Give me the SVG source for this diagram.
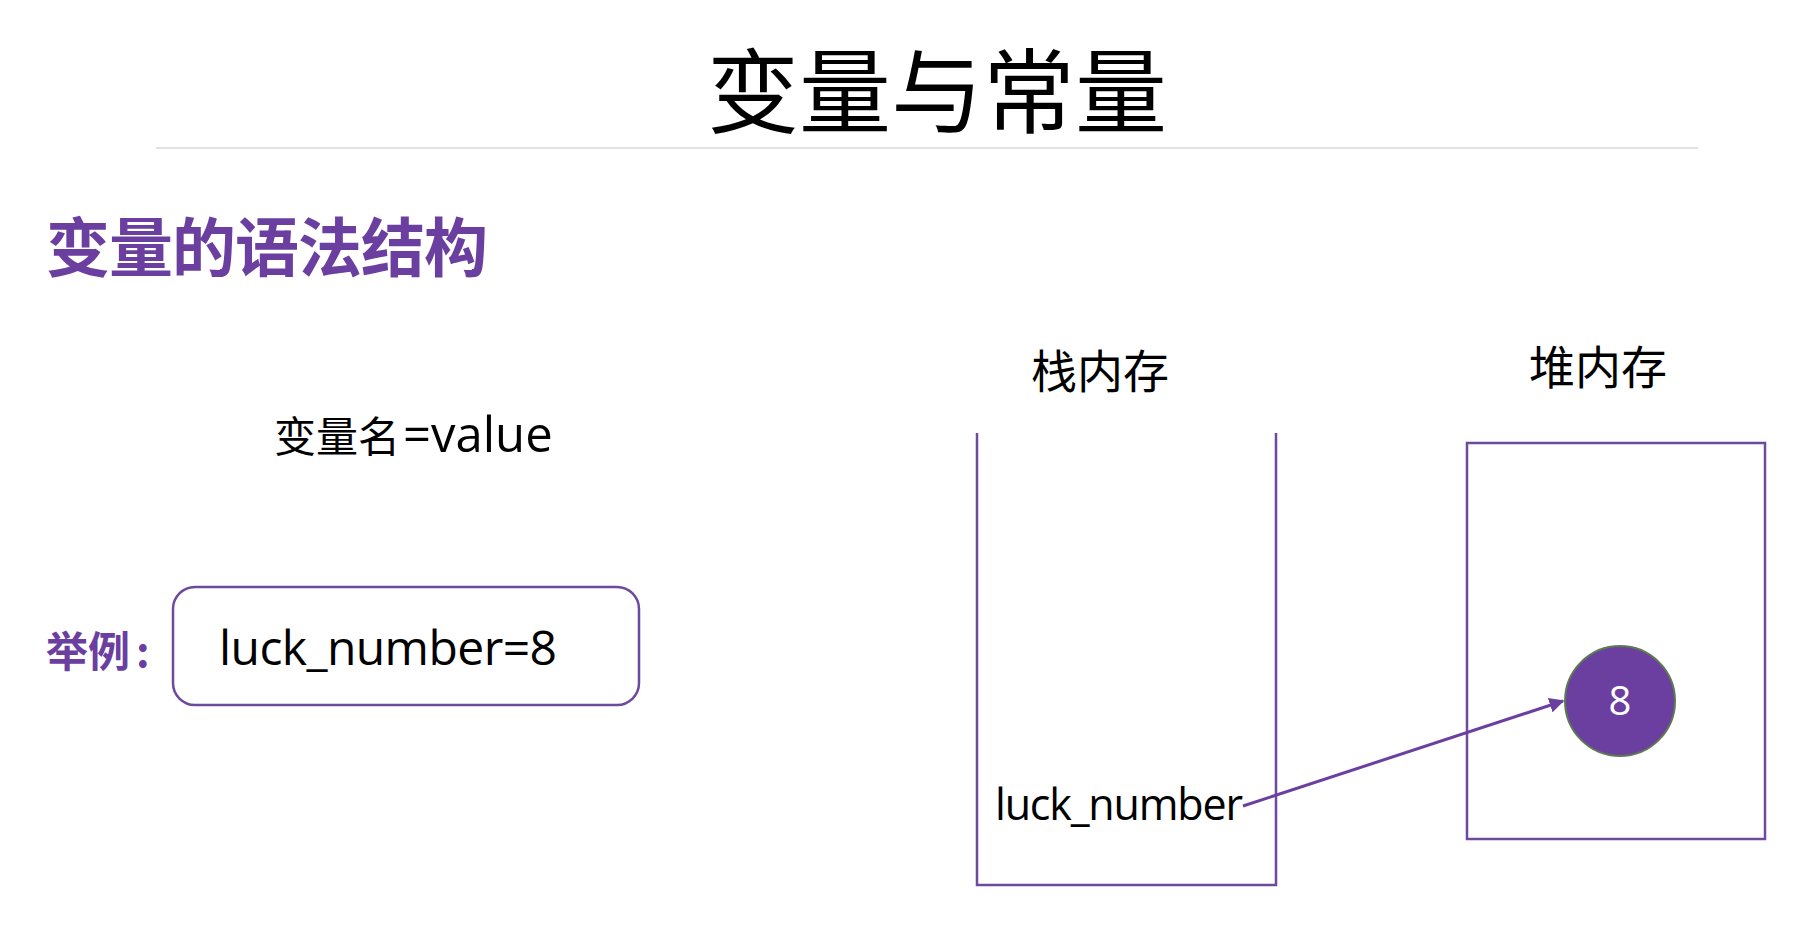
<svg xmlns="http://www.w3.org/2000/svg" width="1810" height="934" viewBox="0 0 1810 934">
<style>
.cjk{font-family:"Noto Sans CJK SC","Microsoft YaHei",sans-serif;}
.lat{font-family:"Open Sans","Noto Sans CJK SC",sans-serif;}
.purple{fill:#6b3fa0;}
.line{stroke:#6e4a9e;stroke-width:2.5;fill:none;}
</style>
<defs>
<marker id="arr" viewBox="0 0 10 10" refX="9" refY="5" markerWidth="5" markerHeight="5" orient="auto" markerUnits="strokeWidth">
<path d="M0,0 L10,5 L0,10 z" fill="#6b3fa0"/>
</marker>
</defs>
<rect width="1810" height="934" fill="#ffffff"/>
<g id="title">
<text class="cjk" x="937" y="126" font-size="92" text-anchor="middle" fill="#000">变量与常量</text>
<line x1="156" y1="148" x2="1698" y2="148" stroke="#d9d9d9" stroke-width="1.5"/>
</g>
<g id="subtitle">
<text class="cjk purple" x="46" y="271" font-size="64" font-weight="bold" textLength="442">变量的语法结构</text>
</g>
<g id="syntax">
<text class="cjk" x="274" y="452" font-size="42" fill="#000">变量名<tspan class="lat" x="403" font-size="49">=value</tspan></text>
</g>
<g id="example-label">
<text class="cjk purple" x="46" y="667" font-size="42" font-weight="bold">举例<tspan x="136">:</tspan></text>
</g>
<g id="example-box">
<rect x="173" y="587" width="466" height="118" rx="22" ry="22" class="line" stroke-width="2"/>
<text class="lat" x="219" y="665" font-size="48" fill="#000" textLength="338">luck_number=8</text>
</g>
<g id="stack">
<text class="cjk" x="1100" y="388" font-size="46" text-anchor="middle" fill="#000">栈内存</text>
<path d="M977,433 L977,885 L1276,885 L1276,433" class="line" stroke-width="2"/>
<text class="lat" x="995" y="820" font-size="43" fill="#000" textLength="248">luck_number</text>
</g>
<g id="heap">
<text class="cjk" x="1598" y="384" font-size="46" text-anchor="middle" fill="#000">堆内存</text>
<rect x="1467" y="443" width="298" height="396" class="line" stroke-width="2"/>
</g>
<g id="value-node">
<circle cx="1620" cy="701" r="55" fill="#6b3fa0" stroke="#5d7a52" stroke-width="2"/>
<text class="lat" x="1620" y="715" font-size="40" text-anchor="middle" fill="#ffffff">8</text>
</g>
<g id="connectors">
<line x1="1243" y1="806" x2="1563" y2="701" stroke="#6b3fa0" stroke-width="3" marker-end="url(#arr)"/>
</g>
</svg>
